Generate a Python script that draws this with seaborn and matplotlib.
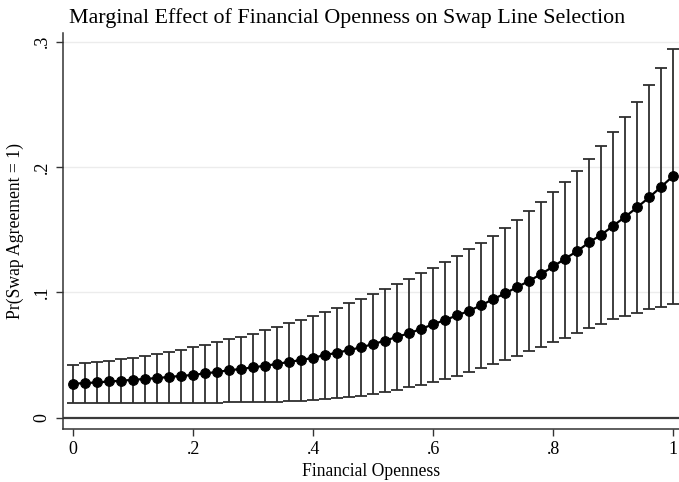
import numpy as np
import pandas as pd
import seaborn as sns
import matplotlib.pyplot as plt

# Financial openness grid (0 to 1 by .02)
openness = [0.00, 0.02, 0.04, 0.06, 0.08, 0.10, 0.12, 0.14, 0.16, 0.18,
            0.20, 0.22, 0.24, 0.26, 0.28, 0.30, 0.32, 0.34, 0.36, 0.38,
            0.40, 0.42, 0.44, 0.46, 0.48, 0.50, 0.52, 0.54, 0.56, 0.58,
            0.60, 0.62, 0.64, 0.66, 0.68, 0.70, 0.72, 0.74, 0.76, 0.78,
            0.80, 0.82, 0.84, 0.86, 0.88, 0.90, 0.92, 0.94, 0.96, 0.98,
            1.00]

# Predicted probability
pr_swap = [0.0272, 0.0276, 0.0282, 0.0289, 0.0295, 0.0303, 0.0309, 0.0317, 0.0325, 0.0334,
           0.0341, 0.0354, 0.0365, 0.0379, 0.0389, 0.0402, 0.0415, 0.0429, 0.0446, 0.0460,
           0.0479, 0.0500, 0.0519, 0.0540, 0.0562, 0.0588, 0.0615, 0.0646, 0.0674, 0.0709,
           0.0746, 0.0780, 0.0817, 0.0853, 0.0898, 0.0946, 0.0993, 0.1043, 0.1092, 0.1147,
           0.1207, 0.1270, 0.1330, 0.1400, 0.1460, 0.1532, 0.1604, 0.1680, 0.1759, 0.1844,
           0.1930]

# Upper bound of CI
ci_upper = [0.0420, 0.0434, 0.0442, 0.0452, 0.0466, 0.0476, 0.0490, 0.0506, 0.0522, 0.0540,
            0.0562, 0.0580, 0.0602, 0.0626, 0.0647, 0.0670, 0.0697, 0.0724, 0.0753, 0.0783,
            0.0812, 0.0846, 0.0875, 0.0913, 0.0947, 0.0985, 0.1025, 0.1065, 0.1107, 0.1151,
            0.1197, 0.1245, 0.1290, 0.1343, 0.1398, 0.1453, 0.1515, 0.1580, 0.1647, 0.1720,
            0.1798, 0.1880, 0.1970, 0.2067, 0.2168, 0.2278, 0.2397, 0.2520, 0.2655, 0.2790,
            0.2940]

# Lower bound of CI
ci_lower = [0.0118, 0.0118, 0.0118, 0.0118, 0.0118, 0.0119, 0.0119, 0.0119, 0.0119, 0.0119,
            0.0120, 0.0120, 0.0121, 0.0122, 0.0123, 0.0124, 0.0126, 0.0128, 0.0130, 0.0133,
            0.0139, 0.0147, 0.0155, 0.0165, 0.0176, 0.0188, 0.0203, 0.0221, 0.0242, 0.0261,
            0.0282, 0.0306, 0.0333, 0.0365, 0.0395, 0.0426, 0.0458, 0.0495, 0.0532, 0.0567,
            0.0602, 0.0638, 0.0674, 0.0712, 0.0748, 0.0785, 0.0812, 0.0836, 0.0865, 0.0886,
            0.0906]

x_ticks = [0, 0.2, 0.4, 0.6, 0.8, 1.0]
x_ticklabels = ['0', '.2', '.4', '.6', '.8', '1']
y_ticks = [0, 0.1, 0.2, 0.3]
y_ticklabels = ['0', '.1', '.2', '.3']

df = pd.DataFrame({'openness': openness, 'pr': pr_swap,
                   'lo': ci_lower, 'hi': ci_upper})

sns.set_style('white')
plt.rcParams['font.family'] = ['Liberation Serif', 'DejaVu Serif']
plt.rcParams['text.color'] = 'black'
plt.rcParams['axes.labelcolor'] = 'black'
plt.rcParams['xtick.color'] = 'black'
plt.rcParams['ytick.color'] = 'black'

fig = plt.figure(figsize=(6.79, 4.82), dpi=100)
ax = fig.add_axes([0.0928, 0.110, 0.9072, 0.8215])

# light grid + zero reference line
for yv in y_ticks[1:]:
    ax.axhline(yv, color='#ececec', lw=1.0, zorder=0)
ax.axhline(0, color='#3a3a3a', lw=1.6, zorder=1)

# confidence intervals
ax.errorbar(df['openness'], df['pr'],
            yerr=[df['pr'] - df['lo'], df['hi'] - df['pr']],
            fmt='none', ecolor='#2e2e2e', elinewidth=1.3, capsize=4.2,
            capthick=1.3, zorder=2)

# point estimates
sns.lineplot(data=df, x='openness', y='pr', ax=ax, color='black', lw=1.6,
             marker='o', markersize=7, markeredgecolor='black', zorder=3)

ax.set_xlim(-0.017, 1.0095)
ax.set_ylim(-0.009, 0.307)
ax.set_xticks(x_ticks)
ax.set_xticklabels(x_ticklabels, fontsize=13)
ax.set_yticks(y_ticks)
ax.set_yticklabels(y_ticklabels, fontsize=13, rotation=90, va='center')

ax.tick_params(axis='both', direction='out', length=5, width=1.0,
               color='#333333', left=True, bottom=True, pad=4)
for s in ['top', 'right']:
    ax.spines[s].set_visible(False)
for s in ['left', 'bottom']:
    ax.spines[s].set_color('#333333')
    ax.spines[s].set_linewidth(1.1)

ax.set_xlabel('Financial Openness', fontsize=12.7, labelpad=3)
ax.set_ylabel('Pr(Swap Agreement = 1)', fontsize=12.7, labelpad=7)

fig.text(0.511, 0.962, 'Marginal Effect of Financial Openness on Swap Line Selection',
         ha='center', va='center', fontsize=15.8)

fig.savefig('out.png', dpi=100)
